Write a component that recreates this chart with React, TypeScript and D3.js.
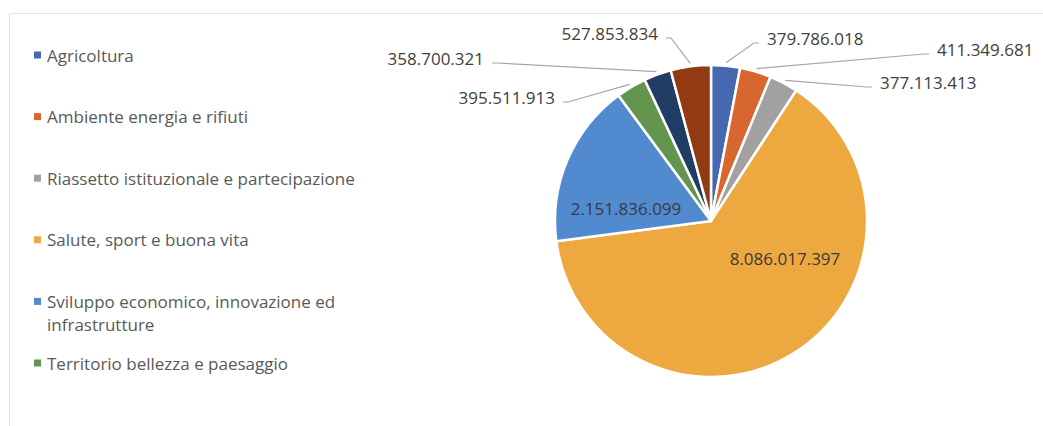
import { useEffect, useRef } from 'react'
import * as d3 from 'd3'

// series, in pie order (clockwise from 12 o'clock)
const categories = [
  'Agricoltura',
  'Ambiente energia e rifiuti',
  'Riassetto istituzionale e partecipazione',
  'Salute, sport e buona vita',
  'Sviluppo economico, innovazione ed infrastrutture',
  'Territorio bellezza e paesaggio',
  'Serie 7',
  'Serie 8',
]
const values = [
  379786018, 411349681, 377113413, 8086017397, 2151836099, 395511913, 358700321, 527853834,
]
const colors = [
  '#4568b0', '#d8672f', '#a3a0a2', '#eda83f', '#528ad0', '#63954f', '#213d66', '#923b12',
]
// the legend in the reference is cut after six entries
const legendShown = 6

// label layout: inside labels have no leader; outside ones are placed like the reference
type LabelPos = { x: number; y: number; anchor: 'start' | 'end' | 'middle'; inside?: boolean }
const labelPos: LabelPos[] = [
  { x: 767, y: 38, anchor: 'start' },
  { x: 937, y: 49, anchor: 'start' },
  { x: 880, y: 82, anchor: 'start' },
  { x: 785, y: 258, anchor: 'middle', inside: true },
  { x: 626, y: 208, anchor: 'middle', inside: true },
  { x: 555, y: 97, anchor: 'end' },
  { x: 484, y: 58, anchor: 'end' },
  { x: 658, y: 33, anchor: 'end' },
]

const fmt = (v: number) => d3.format(',')(v).replace(/,/g, '.')

export default function App() {
  const svgRef = useRef<SVGSVGElement>(null)

  useEffect(() => {
    if (!svgRef.current) return
    const W = 1043
    const H = 426
    const cx = 711
    const cy = 221
    const r = 156
    const font = '"Open Sans", "Noto Sans", sans-serif'

    const root = d3.select(svgRef.current)
    root.selectAll('*').remove()
    root.attr('width', W).attr('height', H)

    root.append('rect').attr('width', W).attr('height', H).attr('fill', '#ffffff')

    // chart frame (only top and left edges visible)
    root.append('rect')
      .attr('x', 9.5).attr('y', 13.5)
      .attr('width', 1100).attr('height', 500)
      .attr('fill', 'none')
      .attr('stroke', '#e3e3e3')
      .attr('stroke-width', 1)

    const data = values.map((v, i) => ({ name: categories[i], value: v, i }))

    const pie = d3.pie<typeof data[number]>()
      .sort(null)
      .value(d => d.value)
      .startAngle(0)
      .endAngle(2 * Math.PI)

    const arc = d3.arc<d3.PieArcDatum<typeof data[number]>>()
      .innerRadius(0)
      .outerRadius(r)

    const arcs = pie(data)

    const g = root.append('g').attr('transform', `translate(${cx},${cy})`)

    g.selectAll('path.slice')
      .data(arcs)
      .join('path')
      .attr('class', 'slice')
      .attr('d', arc)
      .attr('fill', d => colors[d.data.i])
      .attr('stroke', '#ffffff')
      .attr('stroke-width', 2.5)
      .attr('stroke-linejoin', 'round')

    // leader lines
    arcs.forEach(a => {
      const p = labelPos[a.data.i]
      if (p.inside) return
      const mid = (a.startAngle + a.endAngle) / 2
      const ex = cx + Math.sin(mid) * (r + 3)
      const ey = cy - Math.cos(mid) * (r + 3)
      const side = p.anchor === 'end' ? 1 : -1
      const sx = p.x + side * 8
      const sy = p.y + 5
      const pts: [number, number][] = [[sx, sy], [sx + side * 5, sy], [ex, ey]]
      root.append('path')
        .attr('d', d3.line()(pts))
        .attr('fill', 'none')
        .attr('stroke', '#a6a6a6')
        .attr('stroke-width', 1.2)
    })

    // value labels
    arcs.forEach(a => {
      const p = labelPos[a.data.i]
      root.append('text')
        .attr('x', p.x)
        .attr('y', p.y)
        .attr('text-anchor', p.anchor)
        .attr('dominant-baseline', 'central')
        .attr('font-family', font)
        .attr('font-size', 17)
        .attr('fill', p.inside ? '#3a3a3a' : '#404040')
        .text(fmt(a.data.value))
    })

    // legend
    const ly = d3.scaleLinear().domain([0, legendShown - 1]).range([55, 363])
    const legend = root.append('g')
    data.slice(0, legendShown).forEach((d, i) => {
      const y = ly(i)
      legend.append('rect')
        .attr('x', 34).attr('y', y - 3.5)
        .attr('width', 7).attr('height', 7)
        .attr('fill', colors[i])
      const words = d.name.split(' ')
      const lines: string[] = []
      if (d.name.length > 40) {
        lines.push(words.slice(0, -1).join(' '))
        lines.push(words[words.length - 1])
      } else {
        lines.push(d.name)
      }
      lines.forEach((t, k) => {
        legend.append('text')
          .attr('x', 47)
          .attr('y', y + k * 23)
          .attr('dominant-baseline', 'central')
          .attr('font-family', font)
          .attr('font-size', 17)
          .attr('fill', '#595959')
          .text(t)
      })
    })
  }, [])

  return (
    <div style={{ position: 'absolute', left: 0, top: 0 }}>
      <svg ref={svgRef} style={{ display: 'block' }}></svg>
    </div>
  )
}
